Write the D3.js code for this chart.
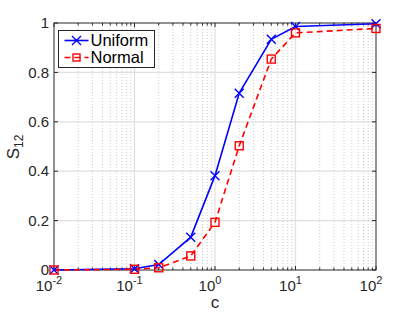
<!DOCTYPE html>
<head>
<meta charset="utf-8">
<script src="https://d3js.org/d3.v7.min.js"></script>
<style>
  body { margin: 0; background: #fff; }
</style>
</head>
<body>
<svg width="415" height="312" font-family="'Liberation Sans', Arial, sans-serif"></svg>
<script>

// values
let cValues = [0.01, 0.1, 0.2, 0.5, 1, 2, 5, 10, 100];
let uniform = [0, 0.005, 0.022, 0.133, 0.382, 0.716, 0.934, 0.986, 0.997];
let normal  = [0, 0.003, 0.009, 0.057, 0.193, 0.503, 0.854, 0.960, 0.978];
let xTicks = [0.01, 0.1, 1, 10, 100];
let xTickExp = ["-2", "-1", "0", "1", "2"];
let yTicks = [0, 0.2, 0.4, 0.6, 0.8, 1];
let yTickLabels = ["0", "0.2", "0.4", "0.6", "0.8", "1"];

let svg = d3.select("svg");
let margin = {left: 54, right: 39, top: 23, bottom: 42};
let width = +svg.attr("width") - margin.left - margin.right,
    height = +svg.attr("height") - margin.top - margin.bottom;

let g = svg.append("g").attr("transform", "translate(" + margin.left + "," + margin.top + ")");

let x = d3.scaleLog().domain([0.01, 100]).range([0, width]);
let y = d3.scaleLinear().domain([0, 1]).range([height, 0]);

let axisColor = "#262626";

// minor log positions
let minor = [];
for (let e = -2; e < 2; e++) {
  for (let k = 2; k <= 9; k++) minor.push(k * Math.pow(10, e));
}

// grid
g.append("g").selectAll("line")
  .data(minor).enter().append("line")
    .attr("x1", d => x(d)).attr("x2", d => x(d))
    .attr("y1", 0).attr("y2", height)
    .attr("stroke", "#bdbdbd")
    .attr("stroke-width", 0.8)
    .attr("stroke-dasharray", "1,2");

g.append("g").selectAll("line")
  .data(xTicks.slice(1, -1)).enter().append("line")
    .attr("x1", d => x(d)).attr("x2", d => x(d))
    .attr("y1", 0).attr("y2", height)
    .attr("stroke", "#dfdfdf")
    .attr("stroke-width", 1.2);

g.append("g").selectAll("line")
  .data(yTicks.slice(1, -1)).enter().append("line")
    .attr("x1", 0).attr("x2", width)
    .attr("y1", d => y(d)).attr("y2", d => y(d))
    .attr("stroke", "#dfdfdf")
    .attr("stroke-width", 1.2);

// ticks (inward, all four sides)
let ticks = g.append("g").attr("stroke", axisColor).attr("stroke-width", 1);
xTicks.forEach(function(d) {
  ticks.append("line").attr("x1", x(d)).attr("x2", x(d)).attr("y1", height).attr("y2", height - 4);
  ticks.append("line").attr("x1", x(d)).attr("x2", x(d)).attr("y1", 0).attr("y2", 4);
});
minor.forEach(function(d) {
  ticks.append("line").attr("x1", x(d)).attr("x2", x(d)).attr("y1", height).attr("y2", height - 2.5);
  ticks.append("line").attr("x1", x(d)).attr("x2", x(d)).attr("y1", 0).attr("y2", 2.5);
});
yTicks.forEach(function(d) {
  ticks.append("line").attr("x1", 0).attr("x2", 4).attr("y1", y(d)).attr("y2", y(d));
  ticks.append("line").attr("x1", width).attr("x2", width - 4).attr("y1", y(d)).attr("y2", y(d));
});

// box
g.append("rect")
  .attr("width", width).attr("height", height)
  .attr("fill", "none")
  .attr("stroke", axisColor)
  .attr("stroke-width", 1);

// tick labels
g.append("g").selectAll("text")
  .data(yTicks).enter().append("text")
    .attr("x", -5)
    .attr("y", d => y(d))
    .attr("dy", "0.35em")
    .attr("text-anchor", "end")
    .attr("font-size", 15)
    .attr("fill", axisColor)
    .text((d, i) => yTickLabels[i]);

let xl = g.append("g").selectAll("text")
  .data(xTicks).enter().append("text")
    .attr("x", d => x(d) - 5)
    .attr("y", height + 21)
    .attr("text-anchor", "middle")
    .attr("font-size", 15)
    .attr("fill", axisColor);
xl.append("tspan").text("10");
xl.append("tspan")
  .attr("font-size", 11)
  .attr("dy", -7)
  .text((d, i) => xTickExp[i]);

// axis labels
g.append("text")
  .attr("x", width / 2 + 0)
  .attr("y", height + 38)
  .attr("text-anchor", "middle")
  .attr("font-size", 17)
  .attr("fill", axisColor)
  .text("c");

let yl = svg.append("text")
  .attr("transform", "translate(19,147)rotate(-90)")
  .attr("text-anchor", "middle")
  .attr("font-size", 17)
  .attr("fill", axisColor);
yl.append("tspan").text("S");
yl.append("tspan").attr("font-size", 12).attr("dy", 4).text("12");

// series
let line = d3.line()
  .x((d, i) => x(cValues[i]))
  .y(d => y(d));

g.append("path")
  .datum(uniform)
  .attr("d", line)
  .attr("fill", "none")
  .attr("stroke", "#0000ff")
  .attr("stroke-width", 1.6);

g.append("path")
  .datum(normal)
  .attr("d", line)
  .attr("fill", "none")
  .attr("stroke", "#ff0000")
  .attr("stroke-width", 1.6)
  .attr("stroke-dasharray", "6,4");

function crossMark(sel, s) {
  sel.append("path")
    .attr("d", "M" + (-s) + "," + (-s) + "L" + s + "," + s + "M" + (-s) + "," + s + "L" + s + "," + (-s))
    .attr("stroke", "#0000ff")
    .attr("stroke-width", 1.4)
    .attr("fill", "none");
}
function squareMark(sel, s) {
  sel.append("rect")
    .attr("x", -s).attr("y", -s).attr("width", 2 * s).attr("height", 2 * s)
    .attr("stroke", "#ff0000")
    .attr("stroke-width", 1.4)
    .attr("fill", "none");
}

g.append("g").selectAll("g")
  .data(uniform).enter().append("g")
    .attr("transform", (d, i) => "translate(" + x(cValues[i]) + "," + y(d) + ")")
    .call(crossMark, 4.5);

g.append("g").selectAll("g")
  .data(normal).enter().append("g")
    .attr("transform", (d, i) => "translate(" + x(cValues[i]) + "," + y(d) + ")")
    .call(squareMark, 4);

// legend
let legend = svg.append("g").attr("transform", "translate(58.5,30.5)");
legend.append("rect")
  .attr("width", 96).attr("height", 37)
  .attr("fill", "#fff")
  .attr("stroke", axisColor)
  .attr("stroke-width", 1);

let entries = [
  {name: "Uniform", color: "#0000ff", dash: null, mark: crossMark, s: 4.5},
  {name: "Normal", color: "#ff0000", dash: "6,4", mark: squareMark, s: 3.5}
];
entries.forEach(function(e, i) {
  let row = legend.append("g").attr("transform", "translate(0," + (10 + i * 17) + ")");
  row.append("line")
    .attr("x1", 6).attr("x2", 30)
    .attr("stroke", e.color)
    .attr("stroke-width", 1.6)
    .attr("stroke-dasharray", e.dash);
  row.append("g").attr("transform", "translate(18,0)").call(e.mark, e.s);
  row.append("text")
    .attr("x", 32)
    .attr("dy", "0.36em")
    .attr("font-size", 16.5)
    .attr("fill", "#000")
    .text(e.name);
});

</script>
</body>
